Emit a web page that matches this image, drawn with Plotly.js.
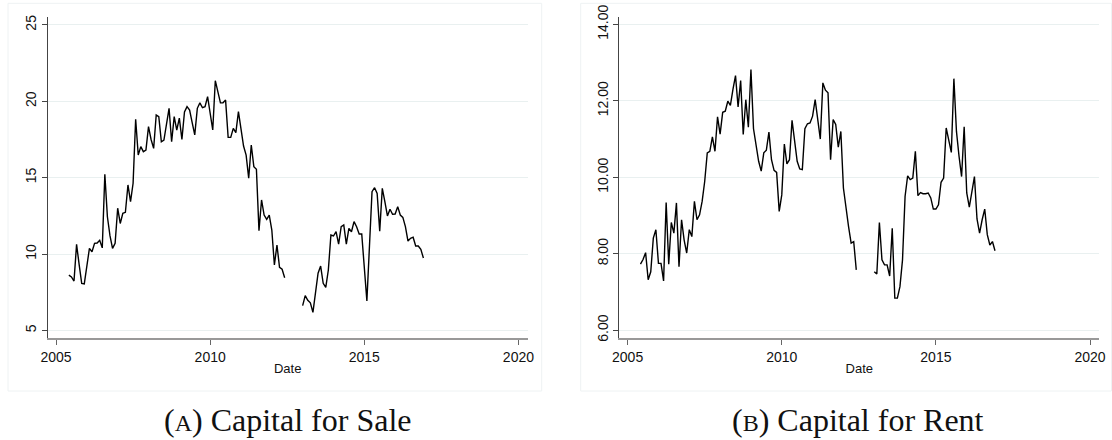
<!DOCTYPE html>
<html>
<head>
<meta charset="utf-8">
<script src="https://cdn.plot.ly/plotly-3.0.1.min.js"></script>
<style>
  html, body { margin: 0; padding: 0; background: #fff; }
  #chart { width: 1112px; height: 440px; }
</style>
</head>
<body>
<div id="chart"></div>
<script>
// Monthly series starting June 2005 (index 0) through December 2016 (index 138); null = missing months
const startYear = 2005;
const startMonth = 6;
const saleValues = [
  8.62, 8.5, 8.23, 10.63, 9.3, 8.08, 8.04, 9.2, 10.37, 10.15,
  10.7, 10.72, 10.9, 10.4, 15.22, 12.44, 11.2, 10.37, 10.7, 13.0,
  12.0, 12.67, 12.73, 14.52, 13.43, 14.63, 18.82, 16.48, 17.03, 16.7,
  16.8, 18.34, 17.5, 16.92, 19.1, 19.0, 17.35, 17.46, 18.5, 19.54,
  17.35, 19.0, 18.12, 18.9, 17.5, 19.3, 19.65, 19.43, 18.6, 17.8,
  19.54, 19.9, 19.58, 19.65, 20.3, 19.2, 18.12, 21.35, 20.63, 19.9,
  19.9, 20.08, 17.64, 17.64, 18.23, 17.95, 19.32, 18.12, 17.07, 16.48,
  14.96, 17.14, 15.72, 15.55, 11.53, 13.54, 12.55, 12.27, 12.55, 11.57,
  9.28, 10.59, 9.13, 9.0, 8.45, null, null, null, null, null,
  null, 6.62, 7.27, 6.97, 6.8, 6.18, 7.64, 8.74, 9.21, 8.08,
  7.82, 8.95, 11.24, 11.18, 11.46, 10.65, 11.79, 11.9, 10.65, 11.68,
  11.46, 12.12, 11.79, 11.31, 11.31, 9.2, 6.92, 10.5, 14.08, 14.34,
  13.97, 11.5, 14.3, 13.43, 12.49, 12.93, 12.6, 12.62, 13.1, 12.55,
  12.4, 11.79, 10.85, 11.03, 11.1, 10.52, 10.52, 10.3, 9.74
];
const rentValues = [
  7.73, 7.85, 8.03, 7.32, 7.53, 8.41, 8.63, 7.75, 7.75, 7.29,
  9.34, 7.73, 8.82, 8.54, 9.33, 7.66, 8.89, 8.36, 8.02, 8.63,
  8.45, 9.37, 8.89, 9.02, 9.37, 9.89, 10.64, 10.68, 11.06, 10.68,
  11.58, 11.13, 11.7, 11.73, 11.99, 11.88, 12.3, 12.66, 11.84, 12.53,
  11.12, 12.03, 11.31, 12.82, 11.27, 10.81, 10.42, 10.16, 10.64, 10.71,
  11.18, 10.46, 10.18, 10.13, 9.11, 9.54, 10.87, 10.35, 10.46, 11.49,
  10.9, 10.42, 10.22, 10.2, 11.27, 11.4, 11.42, 11.6, 12.03, 11.55,
  11.0, 12.47, 12.28, 12.21, 10.46, 11.51, 11.38, 10.79, 11.2, 9.72,
  9.15, 8.71, 8.28, 8.32, 7.58, null, null, null, null, null,
  null, 7.53, 7.47, 8.82, 7.84, 7.71, 7.71, 7.42, 8.67, 6.84,
  6.84, 7.14, 7.84, 9.5, 10.04, 9.94, 9.98, 10.68, 9.52, 9.6,
  9.57, 9.57, 9.59, 9.46, 9.17, 9.17, 9.28, 9.87, 9.98, 11.29,
  10.99, 10.65, 12.58, 11.2, 10.55, 10.02, 11.32, 9.59, 9.22, 9.67,
  10.02, 8.91, 8.54, 8.89, 9.17, 8.5, 8.23, 8.32, 8.08
];
const xTickVals = [2005, 2010, 2015, 2020];
const xTickText = ['2005', '2010', '2015', '2020'];
const saleTickVals = [5, 10, 15, 20, 25];
const rentTickVals = [6, 8, 10, 12, 14];
const xTitle = 'Date';
const captionA = '(<span style="font-size:24px">A</span>) Capital for Sale';
const captionB = '(<span style="font-size:24px">B</span>) Capital for Rent';

const dates = saleValues.map((_, i) => startYear + (startMonth - 1 + i) / 12);

const W = 1112, H = 440;
const px = v => v / W;
const py = v => (H - v) / H;

const lineStyle = { color: '#000', width: 1.4 };
const traces = [
  { x: dates, y: saleValues, type: 'scatter', mode: 'lines', line: lineStyle,
    connectgaps: false, xaxis: 'x', yaxis: 'y', hoverinfo: 'skip' },
  { x: dates, y: rentValues, type: 'scatter', mode: 'lines', line: lineStyle,
    connectgaps: false, xaxis: 'x2', yaxis: 'y2', hoverinfo: 'skip' }
];

const tickFont = { family: 'Liberation Sans, Arial, sans-serif', size: 14, color: '#111' };
const gridColor = '#e9f0f0';

function xAxis(domain, anchor) {
  return {
    domain: domain, anchor: anchor, range: [2004.73, 2020.3],
    tickvals: xTickVals, ticktext: xTickText, ticks: 'outside', ticklen: 5,
    tickcolor: '#666', tickwidth: 1, showline: true, linecolor: '#999', linewidth: 2,
    showgrid: false, zeroline: false, tickfont: tickFont,
    title: { text: xTitle, font: { family: 'Liberation Sans, Arial, sans-serif', size: 13, color: '#111' }, standoff: 0 }
  };
}
function yAxis(domain, anchor, range, vals, fmt) {
  return {
    domain: domain, anchor: anchor, range: range, tickvals: vals, tickformat: fmt,
    ticks: 'outside', ticklen: 5, tickcolor: '#444', tickwidth: 1,
    showline: true, linecolor: '#444', linewidth: 1.2, showgrid: true,
    gridcolor: gridColor, gridwidth: 1, zeroline: false, tickangle: -90, tickfont: tickFont
  };
}

const yDom = [py(338.3), py(16.7)];
const layout = {
  width: W, height: H,
  margin: { l: 0, r: 0, t: 0, b: 0, pad: 0 },
  paper_bgcolor: '#fff', plot_bgcolor: 'rgba(0,0,0,0)',
  showlegend: false,
  xaxis: xAxis([px(47.7), px(527.7)], 'y'),
  yaxis: yAxis(yDom, 'x', [4.48, 25.54], saleTickVals, 'd'),
  xaxis2: xAxis([px(619.3), px(1099.3)], 'y2'),
  yaxis2: yAxis(yDom, 'x2', [5.79, 14.2], rentTickVals, '.2f'),
  shapes: [
    { type: 'rect', xref: 'paper', yref: 'paper', x0: px(8), x1: px(541.7), y0: py(391), y1: py(3.3),
      line: { color: '#eef2f3', width: 1 }, fillcolor: 'rgba(0,0,0,0)', layer: 'below' },
    { type: 'rect', xref: 'paper', yref: 'paper', x0: px(580.7), x1: px(1111.5), y0: py(391), y1: py(3.3),
      line: { color: '#eef2f3', width: 1 }, fillcolor: 'rgba(0,0,0,0)', layer: 'below' }
  ],
  annotations: [
    { text: captionA, xref: 'paper', yref: 'paper', x: px(287.6), y: py(420), xanchor: 'center', yanchor: 'middle',
      showarrow: false, font: { family: 'Liberation Serif, DejaVu Serif, serif', size: 32, color: '#111' } },
    { text: captionB, xref: 'paper', yref: 'paper', x: px(858), y: py(420), xanchor: 'center', yanchor: 'middle',
      showarrow: false, font: { family: 'Liberation Serif, DejaVu Serif, serif', size: 32, color: '#111' } }
  ]
};

Plotly.newPlot('chart', traces, layout, { staticPlot: true, displayModeBar: false });
</script>
</body>
</html>
